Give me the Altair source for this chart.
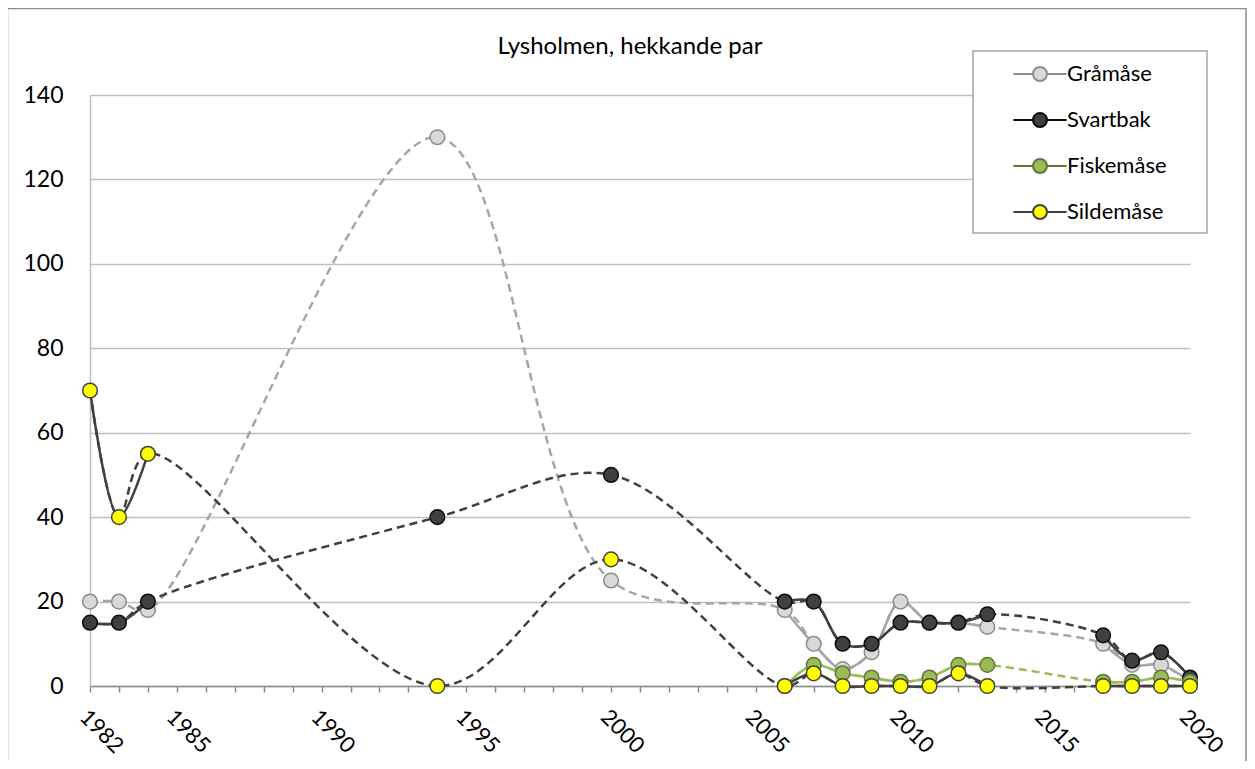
import altair as alt
import pandas as pd

# ---- data ----
years = [1982, 1983, 1984, 1994, 2000, 2006, 2007, 2008, 2009, 2010, 2011, 2012, 2013, 2017, 2018, 2019, 2020]
graamaase = [20, 20, 18, 130, 25, 18, 10, 4, 8, 20, 15, 15, 14, 10, 5, 5, 1]
svartbak = [15, 15, 20, 40, 50, 20, 20, 10, 10, 15, 15, 15, 17, 12, 6, 8, 2]
fiskemaase = [None, None, None, None, None, 0, 5, 3, 2, 1, 2, 5, 5, 1, 1, 2, 1]
sildemaase = [70, 40, 55, 0, 30, 0, 3, 0, 0, 0, 0, 3, 0, 0, 0, 0, 0]

series_names = ["Gråmåse", "Svartbak", "Fiskemåse", "Sildemåse"]
series_values = [graamaase, svartbak, fiskemaase, sildemaase]
x_label_years = [1982, 1985, 1990, 1995, 2000, 2005, 2010, 2015, 2020]
y_ticks = [0, 20, 40, 60, 80, 100, 120, 140]
title_text = "Lysholmen, hekkande par"

# ---- styles ----
line_colors = ["#A6A6A6", "#404040", "#9BBB59", "#404040"]
fill_colors = ["#D9D9D9", "#404040", "#9BBB59", "#FFFF00"]
stroke_colors = ["#8C8C8C", "#0D0D0D", "#5E7A2E", "#404040"]
dashed_runs = {"Gråmåse": [0]}
INTERP = "catmull-rom"

# ---- build a long table ----
rows = []
for name, vals in zip(series_names, series_values):
    run = 0
    prev = None
    pts = []
    for yr, v in zip(years, vals):
        if v is None:
            continue
        if prev is not None and yr - prev > 1:
            run += 1
        pts.append((yr, v, run))
        prev = yr
    counts = {}
    for _, _, r in pts:
        counts[r] = counts.get(r, 0) + 1
    for yr, v, r in pts:
        solid = counts[r] >= 2 and r not in dashed_runs.get(name, [])
        rows.append({"year": yr, "value": v, "series": name, "run": r, "solid": solid})
df = pd.DataFrame(rows)

FONT = "Lato"

X = alt.X(
    "year:Q",
    scale=alt.Scale(domain=[1982, 2020], nice=False, zero=False),
    axis=alt.Axis(
        values=list(range(1982, 2021)),
        format="d",
        labelExpr="indexof(" + str(x_label_years) + ", datum.value) >= 0 ? datum.label : ''",
        labelAngle=45,
        labelAlign="left",
        labelBaseline="top",
        labelPadding=14,
        labelOverlap=False,
        labelFont=FONT,
        labelFontSize=22,
        labelColor="black",
        tickSize=6,
        tickColor="#8C8C8C",
        tickWidth=1.5,
        domainColor="#8C8C8C",
        domainWidth=1.5,
        grid=False,
        title=None,
    ),
)
Y = alt.Y(
    "value:Q",
    scale=alt.Scale(domain=[0, 140], nice=False),
    axis=alt.Axis(
        values=y_ticks,
        grid=True,
        gridColor="#BFBFBF",
        gridWidth=1.5,
        domainColor="#BFBFBF",
        domainWidth=1.5,
        ticks=False,
        tickSize=0,
        labelPadding=27,
        labelFont=FONT,
        labelFontSize=23,
        labelColor="black",
        title=None,
    ),
)

legend = alt.Legend(
    orient="none",
    legendX=939,
    legendY=-32,
    title=None,
    symbolType="M-3.8,0H-1M1,0H3.8M-1,0A1,1,0,1,0,1,0A1,1,0,1,0,-1,0Z",
    symbolSize=196,
    symbolStrokeWidth=2,
    symbolOpacity=1,
    labelFont=FONT,
    labelFontSize=22,
    labelColor="black",
    labelOffset=16,
    rowPadding=24,
    padding=0,
)
fill_scale = alt.Scale(domain=series_names, range=fill_colors)
stroke_scale = alt.Scale(domain=series_names, range=stroke_colors)

one = pd.DataFrame({"t": [title_text]})

border = alt.Chart(one).mark_rect(fillOpacity=0, stroke="#8C8C8C", strokeWidth=1.5).encode(
    x=alt.value(-82.5), x2=alt.value(1156), y=alt.value(-86.5), y2=alt.value(720)
)
legend_box = alt.Chart(one).mark_rect(fill="white", stroke="#A6A6A6", strokeWidth=1.5).encode(
    x=alt.value(883), x2=alt.value(1117), y=alt.value(-44), y2=alt.value(138)
)

layers = [border, legend_box]
for name, lc in zip(series_names, line_colors):
    sub = df[df.series == name]
    dashed = alt.Chart(sub).mark_line(
        interpolate=INTERP, strokeDash=[8, 5], strokeWidth=2.5, color=lc
    ).encode(x=X, y=Y)
    layers.append(dashed)
    sub_solid = sub[sub.solid]
    if len(sub_solid):
        solid = alt.Chart(sub_solid).mark_line(
            interpolate=INTERP, strokeWidth=2.5, color=lc
        ).encode(x=X, y=Y, detail="run:N")
        layers.append(solid)
    pts = alt.Chart(sub).mark_point(
        filled=True, shape="circle", size=215, opacity=1, strokeWidth=1.5
    ).encode(
        x=X,
        y=Y,
        fill=alt.Fill("series:N", scale=fill_scale, legend=legend),
        stroke=alt.Stroke("series:N", scale=stroke_scale, legend=legend),
    )
    layers.append(pts)

title_mark = alt.Chart(one).mark_text(
    font=FONT, fontSize=24, align="center", baseline="middle", color="black"
).encode(x=alt.value(540), y=alt.value(-48), text="t:N")
layers.append(title_mark)

chart = alt.layer(*layers).properties(
    width=1100,
    height=591,
    padding={"left": 82, "top": 87, "right": 57, "bottom": 75},
    autosize=alt.AutoSizeParams(type="none"),
    background="white",
).configure_view(stroke=None)

chart.save("out.html", embed_options={"renderer": "svg", "actions": False})
